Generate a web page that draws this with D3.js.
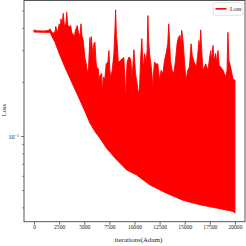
<!DOCTYPE html>
<html><head><meta charset="utf-8">
<script src="https://cdn.jsdelivr.net/npm/d3@7"></script>
<style>html,body{margin:0;padding:0;background:#fff;}svg{display:block;}</style>
</head><body>
<script>
// Upper envelope of the noisy Adam loss (iteration, loss)
const upperIter = [0,200,1000,1490,1590,1740,1890,2090,2160,2290,2380,2510,2610,2680,2780,2910,3010,3080,3180,3250,3350,3510,3650,3750,3840,4000,4120,4300,4420,4570,4670,4770,4900,5070,5170,5320,5410,5560,5630,5690,5790,5860,5960,6060,6160,6230,6390,6460,6560,6730,6810,6890,7050,7180,7350,7450,7550,7620,7780,7950,8050,8120,8200,8280,8370,8450,8610,8770,8940,9040,9110,9190,9270,9440,9610,9770,9940,10100,10260,10380,10500,10600,10730,10830,10900,11000,11160,11260,11330,11410,11500,11650,11750,11820,11920,11990,12150,12320,12490,12650,12820,12990,13140,13310,13410,13510,13580,13740,13910,14080,14240,14380,14530,14620,14700,14830,14970,15130,15300,15470,15630,15750,15930,16160,16290,16420,16510,16590,16690,16820,17090,17320,17440,17590,17680,17810,17930,18080,18180,18310,18430,18580,18810,19080,19210,19300,19400,19570,19800,20000];
const upperLoss = [0.390,0.385,0.384,0.387,0.395,0.382,0.372,0.382,0.407,0.382,0.387,0.421,0.397,0.449,0.417,0.482,0.417,0.412,0.428,0.489,0.417,0.403,0.412,0.377,0.372,0.355,0.387,0.412,0.377,0.358,0.421,0.363,0.340,0.270,0.257,0.226,0.232,0.352,0.299,0.358,0.312,0.281,0.326,0.333,0.263,0.242,0.237,0.204,0.217,0.223,0.172,0.213,0.209,0.252,0.258,0.299,0.232,0.213,0.232,0.288,0.387,0.504,0.363,0.326,0.263,0.258,0.263,0.269,0.273,0.213,0.158,0.213,0.258,0.275,0.269,0.213,0.302,0.223,0.196,0.172,0.184,0.263,0.348,0.263,0.242,0.287,0.258,0.299,0.468,0.340,0.287,0.247,0.217,0.183,0.232,0.258,0.252,0.252,0.204,0.232,0.222,0.263,0.287,0.326,0.421,0.319,0.263,0.232,0.222,0.263,0.326,0.355,0.363,0.319,0.387,0.340,0.263,0.204,0.232,0.242,0.326,0.281,0.258,0.242,0.281,0.340,0.299,0.390,0.299,0.232,0.252,0.232,0.263,0.299,0.263,0.319,0.263,0.288,0.257,0.299,0.247,0.242,0.232,0.213,0.232,0.378,0.263,0.242,0.208,0.204];
// Lower envelope (iteration, loss)
const lowerIter = [0,1590,2090,2580,3080,3580,4070,4570,5070,5560,6060,6560,6890,7220,8220,9210,10200,11520,13180,14830,16490,18150,19800,20000];
const lowerLoss = [0.379,0.377,0.332,0.281,0.241,0.209,0.182,0.158,0.137,0.118,0.106,0.0971,0.0911,0.0854,0.0736,0.0647,0.0607,0.0534,0.0480,0.0438,0.0414,0.0397,0.0380,0.0372];

const xTicks = [0,2500,5000,7500,10000,12500,15000,17500,20000];
const yMajor = [0.1];
const yMinor = [0.04,0.05,0.06,0.07,0.08,0.09,0.2,0.3,0.4,0.5];
const seriesName = "Loss";
const xTitle = "iterations(Adam)";
const yTitle = "Loss";

const W = 246, H = 246;
const m = {l:24, t:0.5, r:245, b:221.7};
const svg = d3.select("body").append("svg").attr("width",W).attr("height",H);
const font = "'Liberation Serif','DejaVu Serif',serif";

const x = d3.scaleLinear().domain([-1000,21000]).range([m.l,m.r]);
const y = d3.scaleLog().domain([0.0333,0.568]).range([m.b,m.t]);

svg.append("clipPath").attr("id","clip").append("rect")
  .attr("x",m.l).attr("y",m.t).attr("width",m.r-m.l).attr("height",m.b-m.t);

const upper = upperIter.map((d,i)=>[d,upperLoss[i]]);
const lower = lowerIter.map((d,i)=>[d,lowerLoss[i]]).reverse();
const line = d3.line().x(d=>x(d[0])).y(d=>y(d[1]));
svg.append("path")
  .attr("clip-path","url(#clip)")
  .attr("d", line(upper.concat(lower)) + "Z")
  .attr("fill","#ff0000").attr("stroke","#ff0000")
  .attr("stroke-width",0.9).attr("stroke-linejoin","round");

// X axis
const xa = svg.append("g").attr("transform",`translate(0,${m.b})`)
  .call(d3.axisBottom(x).tickValues(xTicks).tickFormat(d3.format("d")).tickSize(3).tickSizeOuter(0));
xa.select(".domain").remove();
xa.selectAll("line").attr("stroke","#333").attr("stroke-width",0.7);
xa.selectAll("text").attr("font-family",font).attr("font-size",5.6).attr("fill","#222").attr("dy","0.55em").attr("y",4.5);

// Y axis major
const ya = svg.append("g").attr("transform",`translate(${m.l},0)`)
  .call(d3.axisLeft(y).tickValues(yMajor).tickFormat(()=>"").tickSize(3).tickSizeOuter(0));
ya.select(".domain").remove();
ya.selectAll("line").attr("stroke","#333").attr("stroke-width",0.7);
ya.selectAll(".tick").each(function(){
  const t = d3.select(this).append("text").attr("x",-5).attr("dy","0.35em")
    .attr("text-anchor","end").attr("font-family",font).attr("font-size",6).attr("fill","#222");
  t.append("tspan").text("10");
  t.append("tspan").attr("dy","-0.4em").attr("font-size",4.2).text("\u22121");
});
// Y axis minor
const ym = svg.append("g").attr("transform",`translate(${m.l},0)`)
  .call(d3.axisLeft(y).tickValues(yMinor).tickFormat(()=>"").tickSize(1.8).tickSizeOuter(0));
ym.select(".domain").remove();
ym.selectAll("line").attr("stroke","#333").attr("stroke-width",0.6);

// Frame
svg.append("rect").attr("x",m.l).attr("y",m.t).attr("width",m.r-m.l).attr("height",m.b-m.t)
  .attr("fill","none").attr("stroke","#444").attr("stroke-width",0.9);

// Titles
svg.append("text").attr("x",(m.l+m.r)/2+4).attr("y",241.5).attr("text-anchor","middle")
  .attr("font-family",font).attr("font-size",7).attr("fill","#222").text(xTitle);
svg.append("text").attr("transform",`translate(6,110) rotate(-90)`).attr("text-anchor","middle")
  .attr("font-family",font).attr("font-size",6.5).attr("fill","#222").text(yTitle);

// Legend
const lg = svg.append("g");
lg.append("rect").attr("x",213.3).attr("y",2.7).attr("width",29.5).attr("height",12.6).attr("rx",1)
  .attr("fill","#fff").attr("fill-opacity",0.85).attr("stroke","#cfd8dc").attr("stroke-width",0.7);
lg.append("line").attr("x1",215.5).attr("x2",226.5).attr("y1",8.8).attr("y2",8.8)
  .attr("stroke","#ff0000").attr("stroke-width",1.6);
lg.append("text").attr("x",230).attr("y",8.8).attr("dy","0.35em").attr("font-family",font)
  .attr("font-size",6).attr("fill","#222").text(seriesName);
</script>
</body></html>
